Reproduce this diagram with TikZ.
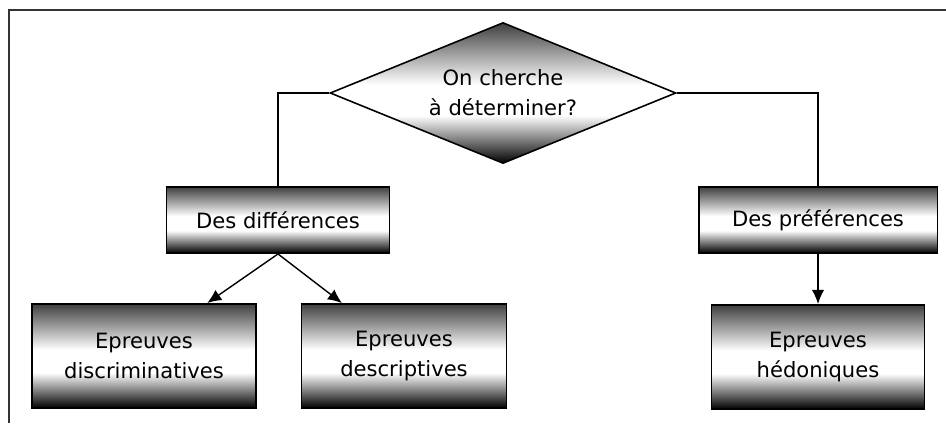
\documentclass[tikz,border=0pt]{standalone}
\usepackage{fontspec}
\setmainfont{DejaVu Sans}
\usepackage{tikz}
\usetikzlibrary{shapes.geometric,arrows.meta,calc}

\pgfdeclareverticalshading{chrome}{100bp}{color(0bp)=(black); color(25bp)=(black); color(42bp)=(white); color(53bp)=(white); color(75bp)=(black!75); color(100bp)=(black!75)}

\begin{document}
\begin{tikzpicture}[x=0.02cm,y=-0.02cm,
    every node/.style={font=\fontsize{12}{17}\selectfont,align=center},
    box/.style={draw=black,line width=1.1pt,shading=chrome,inner sep=0pt},
    question/.style={diamond,aspect=2.45,draw=black,line width=0.9pt,shading=chrome,inner sep=0pt,minimum width=6.92cm,minimum height=2.82cm},
    link/.style={line width=0.8pt},
    arrow/.style={link,-{Latex[length=8pt,width=7pt]}}]
    \useasboundingbox (0,0) rectangle (946,423);
    % cadre
    \draw[line width=1.1pt,black!80] (9,423) -- (9,10) -- (946,10);
    \node[question] (quest) at (503,93) {On cherche\\à déterminer?};
    \node[box,minimum width=4.46cm,minimum height=1.32cm] (diff) at (278,220) {Des différences};
    \node[box,minimum width=4.78cm,minimum height=1.32cm] (pref) at (818,220) {Des préférences};
    \node[box,minimum width=4.48cm,minimum height=2.08cm] (discr) at (144,356) {Epreuves\\discriminatives};
    \node[box,minimum width=4.1cm,minimum height=2.08cm] (descr) at (404,356) {Epreuves\\descriptives};
    \node[box,minimum width=4.26cm,minimum height=2.08cm] (hedo) at (818,357) {Epreuves\\hédoniques};
    % liens
    \draw[link] (quest.west) -| (diff.north);
    \draw[link] (quest.east) -| (pref.north);
    \draw[arrow] (diff.south) -- ($(discr.north west)!0.78!(discr.north east)$);
    \draw[arrow] (diff.south) -- ($(descr.north west)!0.2!(descr.north east)$);
    \draw[arrow] (pref.south) -- (hedo.north);
\end{tikzpicture}
\end{document}
